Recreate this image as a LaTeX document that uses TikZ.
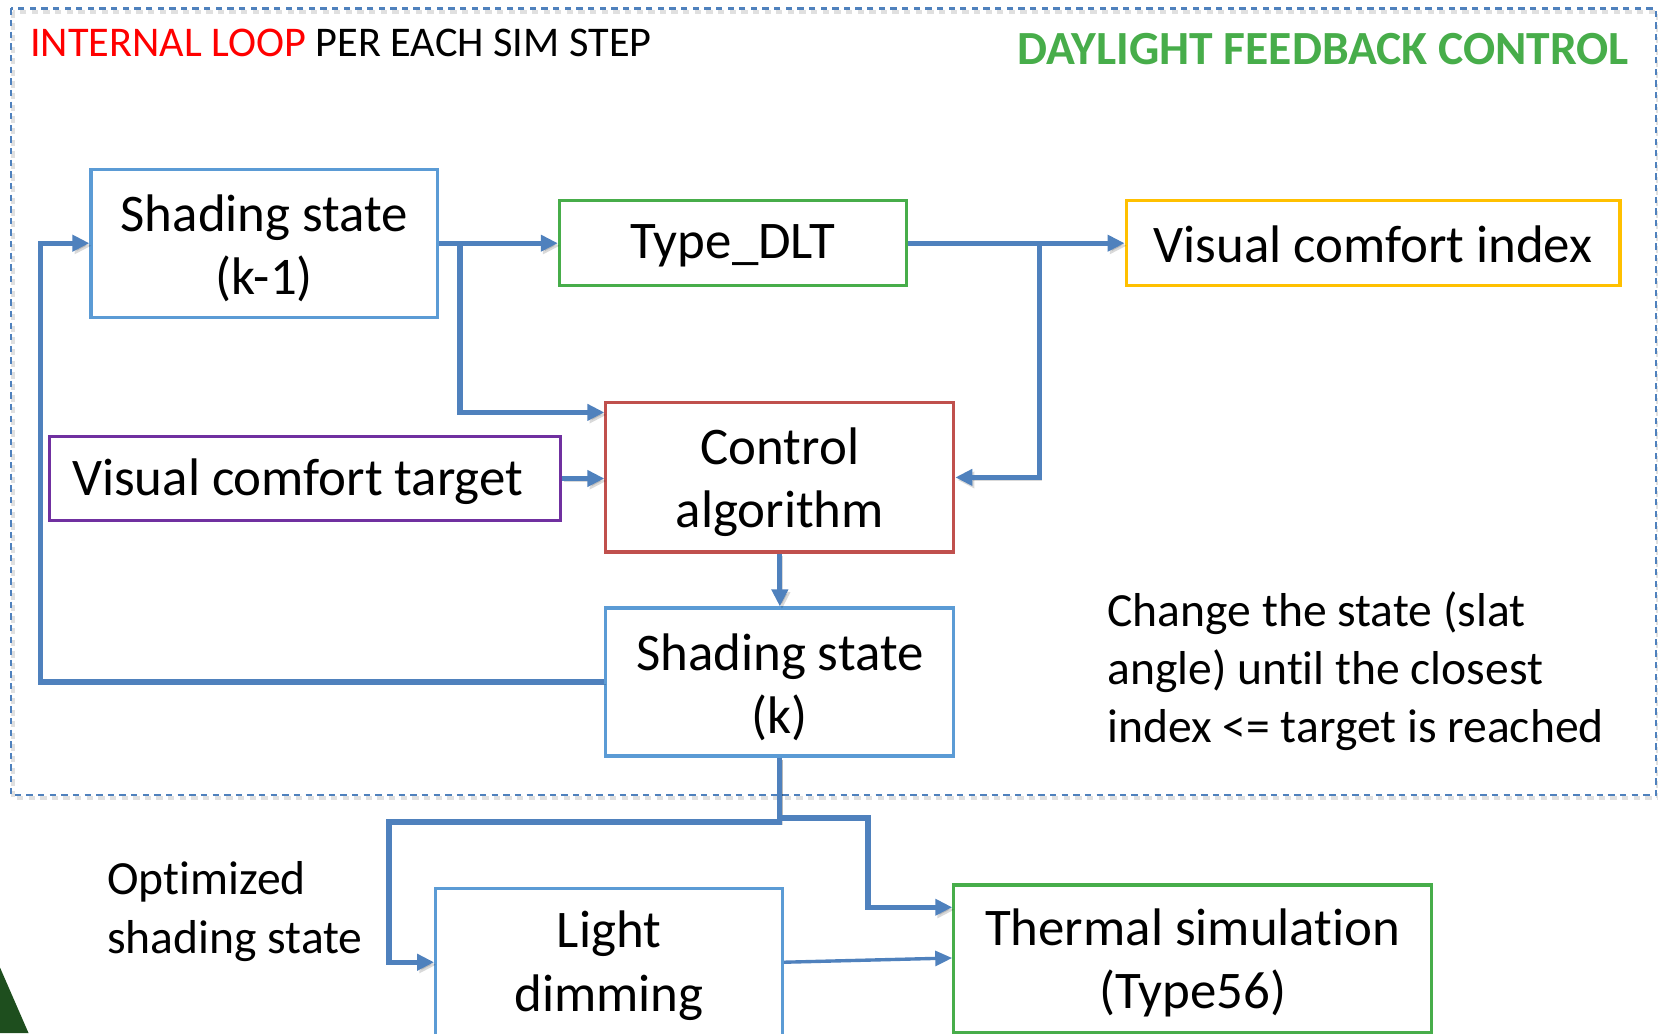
\documentclass[tikz,border=0pt]{standalone}
\usepackage{fontspec}
\setmainfont{Carlito}[Ligatures=NoCommon]
\usetikzlibrary{arrows.meta,calc}
\definecolor{linkblue}{RGB}{79,129,189}
\definecolor{boxblue}{RGB}{91,155,213}
\definecolor{boxgreen}{RGB}{71,173,74}
\definecolor{boxyellow}{RGB}{255,192,0}
\definecolor{boxred}{RGB}{192,80,77}
\definecolor{boxpurple}{RGB}{112,48,160}
\definecolor{leafgreen}{RGB}{30,78,30}
% invisible strut that sets the height of a first line of text
\newcommand\lift[1]{\rule{0pt}{#1}}
\tikzset{
  box/.style={draw, line width=1.5pt, fill=white, align=center, inner sep=0pt,
    font=\fontsize{25pt}{30pt}\selectfont},
  conn/.style={draw=linkblue, line width=2.5pt,
    -{Triangle[length=8pt,width=7.5pt]},
    preaction={draw=black, opacity=0.15, transform canvas={xshift=1pt,yshift=-1.2pt}}},
  thinconn/.style={draw=linkblue, line width=1.6pt,
    -{Triangle[length=8pt,width=7pt]}},
  note/.style={align=left, inner sep=0pt, font=\fontsize{22.5pt}{27.5pt}\selectfont},
  frame/.style={draw=linkblue, line width=1pt, dash pattern=on 3pt off 2.5pt}
}
\begin{document}
\begin{tikzpicture}[x=0.5pt,y=-0.5pt]
\useasboundingbox (0,0) rectangle (1568,977);
\fill[white] (0,0) rectangle (1568,977);
\begin{scope}
\clip (0,0) rectangle (1568,977);

% dashed frame of the internal loop
\draw[black, opacity=0.12, line width=2pt, dash pattern=on 3pt off 2.5pt] (12,11) rectangle (1568,755);
\draw[frame] (10,8) rectangle (1566,752);

% headings
\node[anchor=base west, inner sep=0pt, font=\fontsize{20pt}{24pt}\selectfont] (head) at (28,53)
  {\textcolor{red}{INTERNAL LOOP} PER EACH SIM STEP};
\node[anchor=base east, inner sep=0pt, text=boxgreen, font=\fontsize{22.5pt}{27pt}\selectfont\bfseries] (title) at (1541,61)
  {DAYLIGHT FEEDBACK CONTROL};

% blocks
\node[box, draw=boxblue, minimum width=164pt, minimum height=70pt] (sk1) at (250,230) {\lift{22pt}Shading state\\(k-1)};
\node[box, draw=boxgreen, minimum width=164pt, minimum height=40pt] (dlt) at (693,230) {\lift{18.6pt}Type\_DLT};
\node[box, draw=boxyellow, minimum width=233.5pt, minimum height=40pt] (vci) at (1298.5,230) {\lift{18.5pt}Visual comfort index};
\node[box, draw=boxred, minimum width=164.5pt, minimum height=70.5pt] (ctrl) at (737.5,451.5) {\lift{22pt}Control\\algorithm};
\node[box, draw=boxpurple, minimum width=241.5pt, minimum height=39.5pt] (vct) at (288.5,452.5) {\lift{20.5pt}Visual comfort target\kern7pt};
\node[box, draw=boxblue, minimum width=164.5pt, minimum height=70pt] (sk) at (737.5,645) {\lift{22.5pt}Shading state\\(k)};
\node[box, draw=boxblue, minimum width=164pt, minimum height=70pt] (light) at (576,910) {\lift{20.5pt}Light\\dimming};
\node[box, draw=boxgreen, minimum width=226pt, minimum height=70pt] (therm) at (1128,907) {\lift{21pt}Thermal simulation\\(Type56)};

% notes
\node[note, anchor=west] (rule) at (1047,632) {\lift{19.5pt}Change the state (slat\\angle) until the closest\\index <= target is reached};
\node[note, anchor=west] (opt) at (101,858) {\lift{19.75pt}Optimized\\shading state};

% junctions
\coordinate (j1) at (435,230);
\coordinate (j2) at (983,230);

% connectors
\draw[conn] (sk1.east) -- (dlt.west);
\draw[conn] (j1) |- ([yshift=30.75pt]ctrl.west);
\draw[conn] (dlt.east) -- (vci.west);
\draw[conn] (j2) |- (ctrl.east);
\draw[conn] (vct.east) -- (vct.east -| ctrl.west);
\draw[conn] (ctrl.south) -- (sk.north);
\draw[conn] (sk.west) -- ++(-533,0) |- (sk1.west);
\draw[conn] (sk.south) -- ++(0,61) -- ++(-369.5,0) |- (light.west);
\draw[conn] (sk.south) -- ++(0,57) -- ++(83.5,0) |- ([yshift=24.5pt]therm.west);
\draw[thinconn] (light.east) -- ([yshift=0.5pt]therm.west);

% corner ornament
\fill[leafgreen] (0,915) -- (27,977) -- (0,977) -- cycle;
\end{scope}
\end{tikzpicture}
\end{document}
